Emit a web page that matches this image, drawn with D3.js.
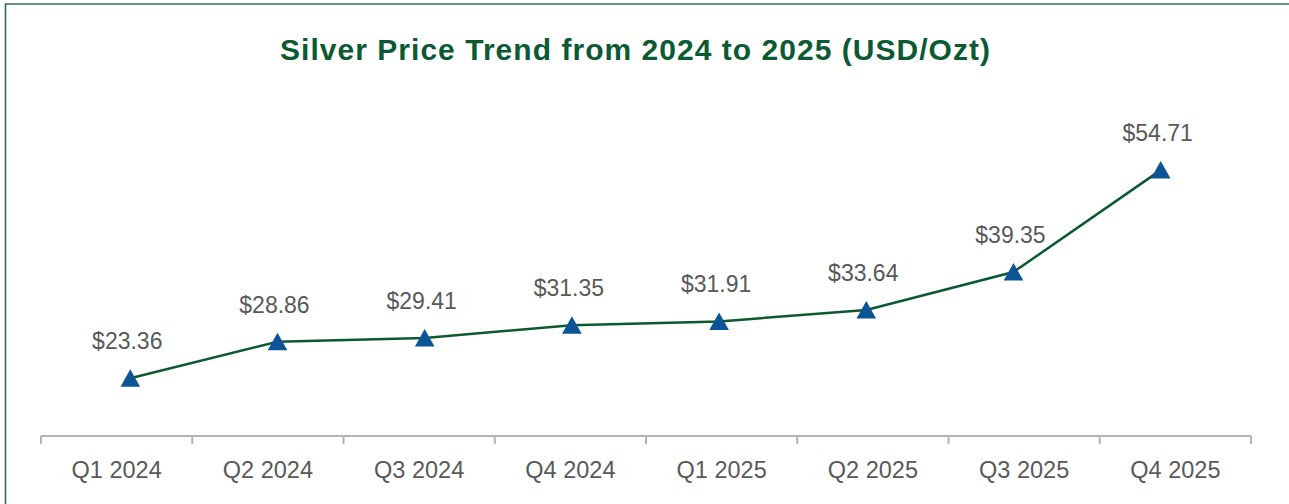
<!DOCTYPE html>
<html>
<head>
<meta charset="utf-8">
<script src="https://cdn.jsdelivr.net/npm/d3@7"></script>
<style>
  body { margin: 0; background: #fff; }
  text { font-family: "Liberation Sans", Arial, Helvetica, sans-serif; }
</style>
</head>
<body>
<svg id="chart" width="1289" height="504"></svg>
<script>
// Chart data
const quarters = ['Q1 2024', 'Q2 2024', 'Q3 2024', 'Q4 2024', 'Q1 2025', 'Q2 2025', 'Q3 2025', 'Q4 2025'];
const prices = [23.36, 28.86, 29.41, 31.35, 31.91, 33.64, 39.35, 54.71];

const width = 1289, height = 504;
const svg = d3.select('#chart');

// Frame (only top and left edges show in the picture)
svg.append('line')
    .attr('x1', 5).attr('x2', width).attr('y1', 4).attr('y2', 4)
    .attr('stroke', '#2f6e4c').attr('stroke-width', 1.6);
svg.append('line')
    .attr('x1', 5.5).attr('x2', 5.5).attr('y1', 4).attr('y2', height)
    .attr('stroke', '#2f6e4c').attr('stroke-width', 1.6);

// Title
svg.append('text')
    .attr('x', 635)
    .attr('y', 60)
    .attr('text-anchor', 'middle')
    .attr('textLength', 710)
    .attr('lengthAdjust', 'spacing')
    .style('font-size', '30px')
    .style('font-weight', 'bold')
    .attr('fill', '#0b5a33')
    .text('Silver Price Trend from 2024 to 2025 (USD/Ozt)');

// Category axis (band) and point positions
const xBand = d3.scaleBand()
    .domain(quarters)
    .range([41, 1251]);
const xPoint = d3.scalePoint()
    .domain(quarters)
    .range([130.3, 1160.7]);
const yScale = d3.scaleLinear()
    .domain([14.5, 60])
    .range([437, 135]);

// x axis: baseline with tick marks at band edges
const axisY = 436;
const axisG = svg.append('g');
axisG.append('line')
    .attr('x1', xBand.range()[0]).attr('x2', xBand.range()[1])
    .attr('y1', axisY).attr('y2', axisY)
    .attr('stroke', '#b3b3b3').attr('stroke-width', 2);
const edges = quarters.map(q => xBand(q)).concat([xBand.range()[1]]);
axisG.selectAll('.tick-mark')
    .data(edges)
  .join('line')
    .attr('class', 'tick-mark')
    .attr('x1', d => d).attr('x2', d => d)
    .attr('y1', axisY).attr('y2', axisY + 8)
    .attr('stroke', '#b3b3b3').attr('stroke-width', 2);
axisG.selectAll('.tick-label')
    .data(quarters)
  .join('text')
    .attr('class', 'tick-label')
    .attr('x', d => xBand(d) + xBand.bandwidth() / 2)
    .attr('y', 478)
    .attr('text-anchor', 'middle')
    .style('font-size', '23.5px')
    .attr('fill', '#595959')
    .text(d => d);

const points = quarters.map((q, i) => ({ key: q, value: prices[i] }));

// Price line
const line = d3.line()
    .x(d => xPoint(d.key))
    .y(d => yScale(d.value));
svg.append('path')
    .datum(points)
    .attr('d', line)
    .attr('fill', 'none')
    .attr('stroke', '#0b5a2e')
    .attr('stroke-width', 2.5);

// Triangle markers
const tri = 'M0,-9L9.8,8.5L-9.8,8.5Z';
svg.selectAll('.marker')
    .data(points)
  .join('path')
    .attr('class', 'marker')
    .attr('d', tri)
    .attr('transform', d => `translate(${xPoint(d.key)},${yScale(d.value)})`)
    .attr('fill', '#0b5597');

// Value labels
svg.selectAll('.value-label')
    .data(points)
  .join('text')
    .attr('class', 'value-label')
    .attr('x', d => xPoint(d.key) - 3)
    .attr('y', d => yScale(d.value) - 29)
    .attr('text-anchor', 'middle')
    .style('font-size', '23px')
    .attr('fill', '#595959')
    .text(d => '$' + d.value.toFixed(2));
</script>
</body>
</html>
